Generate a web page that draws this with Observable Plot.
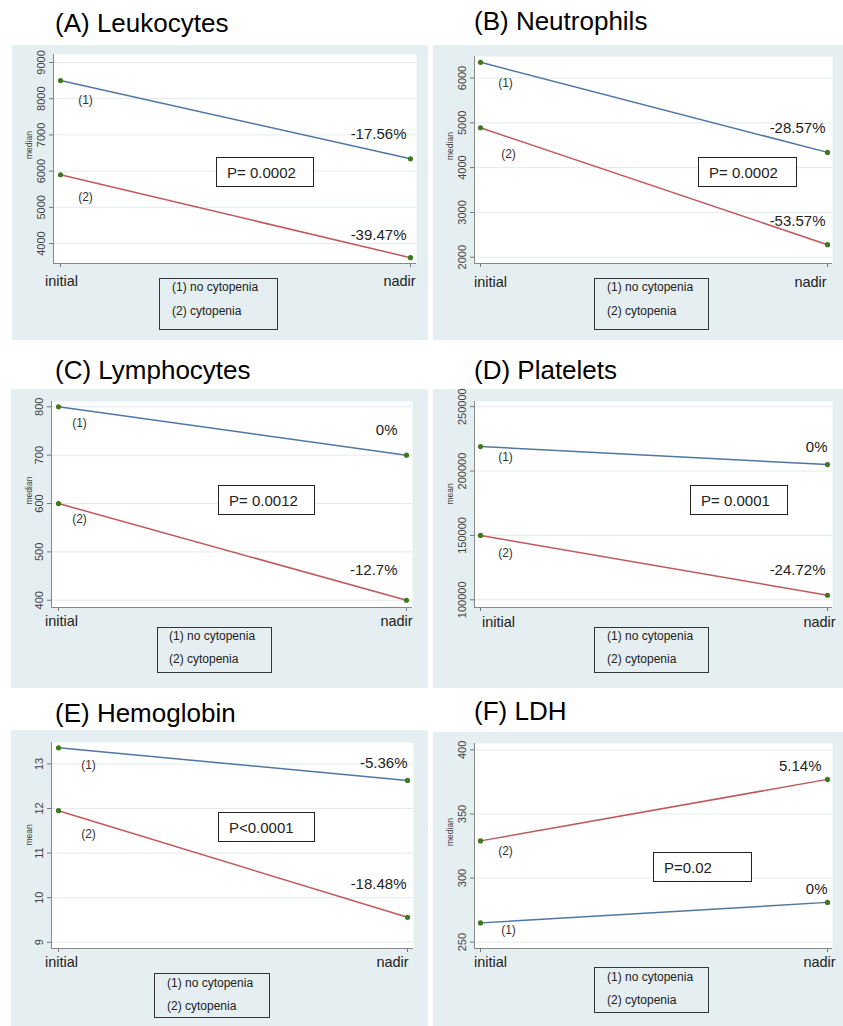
<!DOCTYPE html>
<html>
<head>
<meta charset="utf-8">
<script src="https://cdn.jsdelivr.net/npm/d3@7"></script>
<script src="https://cdn.jsdelivr.net/npm/@observablehq/plot@0.6"></script>
<style>
  body { margin: 0; background: #fff; font-family: "Liberation Sans", Arial, sans-serif; }
  #root { position: relative; width: 843px; height: 1026px; overflow: hidden; background: #fff; }
  .title { position: absolute; font-size: 26px; line-height: 26px; color: #000; white-space: nowrap; }
  .bg { position: absolute; background: #e5eef0; }
  .holder { position: absolute; }
  .pbox { position: absolute; box-sizing: border-box; border: 1px solid #222; background: #fff;
          font-size: 15px; color: #222; display: flex; align-items: center; padding-left: 10px; white-space: nowrap; }
  .legend { position: absolute; box-sizing: border-box; border: 1px solid #333; }
  .legrow { position: absolute; font-size: 12px; line-height: 14px; color: #222; white-space: nowrap; }
</style>
</head>
<body>
<div id="root"></div>
<script>
// ---------- data ----------
const timepoints = ["initial", "nadir"];
const groups = ["(1)", "(2)"];
const legendItems = ["(1) no cytopenia", "(2) cytopenia"];
const titles = ["(A) Leukocytes", "(B) Neutrophils", "(C) Lymphocytes", "(D) Platelets", "(E) Hemoglobin", "(F) LDH"];
const yTitles = ["median", "median", "median", "mean", "mean", "median"];
const noCytoInitial = [8500, 6350, 800, 219000, 13.36, 265];
const noCytoNadir   = [6340, 4340, 700, 205000, 12.63, 281];
const cytoInitial   = [5900, 4890, 600, 150000, 11.95, 329];
const cytoNadir     = [3610, 2280, 400, 103500, 9.56, 377];
const pctNoCyto = ["-17.56%", "-28.57%", "0%", "0%", "-5.36%", "0%"];
const pctCyto   = ["-39.47%", "-53.57%", "-12.7%", "-24.72%", "-18.48%", "5.14%"];
const pValues = ["P= 0.0002", "P= 0.0002", "P= 0.0012", "P= 0.0001", "P<0.0001", "P=0.02"];
const yTicks = [
  [4000, 5000, 6000, 7000, 8000, 9000],
  [2000, 3000, 4000, 5000, 6000],
  [400, 500, 600, 700, 800],
  [100000, 150000, 200000, 250000],
  [9, 10, 11, 12, 13],
  [250, 300, 350, 400]
];

// ---------- layout (pixels) ----------
const layout = [
  {bg:[12,45,428,340], axisX:53, plotR:416, plotT:54, axisY:263, ticks:[60,410], yDomain:[3450,9220],
   title:[55,10], l1:[25,20], l2:[25,22], p1:[-4,-25], p2:[-4,-23], xl:[1,-11,22], yt:-24,
   pbox:[216,157,314,187], legend:[159,278,278,330], legRows:[287,311], legLeft:172},
  {bg:[433,45,843,340], axisX:474, plotR:832, plotT:56, axisY:263, ticks:[480,827], yDomain:[1860,6480],
   title:[474,8], l1:[25,21], l2:[28,26], p1:[-2,-24], p2:[-2,-23], xl:[10,-17,23], yt:-24,
   pbox:[698,157,797,187], legend:[594,278,709,330], legRows:[287,311], legLeft:607},
  {bg:[11,389,428,688], axisX:51, plotR:412, plotT:401, axisY:607, ticks:[58,406], yDomain:[385,811],
   title:[55,357], l1:[21,16], l2:[21,16], p1:[-9,-25], p2:[-9,-30], xl:[3,-10,18], yt:-22,
   pbox:[218,485,315,515], legend:[157,627,272,673], legRows:[636,659], legLeft:169},
  {bg:[433,389,843,688], axisX:474, plotR:832, plotT:401, axisY:607, ticks:[480,827], yDomain:[94000,254000],
   title:[474,357], l1:[25,11], l2:[25,18], p1:[0,-17], p2:[-2,-25], xl:[18,-8,19], yt:-24,
   pbox:[690,485,788,515], legend:[594,627,709,673], legRows:[636,659], legLeft:607},
  {bg:[11,730,428,1026], axisX:51, plotR:413, plotT:742, axisY:948, ticks:[58,407], yDomain:[8.86,13.48],
   title:[55,700], l1:[30,17], l2:[30,23], p1:[0,-17], p2:[-1,-33], xl:[3,-15,18], yt:-22,
   pbox:[218,812,315,842], legend:[154,973,270,1018], legRows:[983,1006], legLeft:167},
  {bg:[433,732,843,1026], axisX:474, plotR:832, plotT:743, axisY:948, ticks:[480,827], yDomain:[245,405],
   title:[474,698], l1:[28,7], l2:[25,10], p1:[0,-13], p2:[-6,-13], xl:[10,-8,18], yt:-24,
   pbox:[653,852,752,882], legend:[594,967,709,1013], legRows:[977,1000], legLeft:607}
];

const BLUE = "#4f77a3", RED = "#c0585b", GREEN = "#3d7a1f";
const root = document.getElementById("root");

function el(cls, left, top, w, h) {
  const d = document.createElement("div");
  d.className = cls;
  d.style.left = left + "px"; d.style.top = top + "px";
  if (w != null) d.style.width = w + "px";
  if (h != null) d.style.height = h + "px";
  root.appendChild(d);
  return d;
}

layout.forEach((L, i) => {
  const [bl, bt, br, bb] = L.bg;
  const W = br - bl, H = bb - bt;
  const mL = L.axisX - bl, mR = br - L.plotR, mT = L.plotT - bt, mB = bb - L.axisY;

  const t = el("title", L.title[0], L.title[1]);
  t.textContent = titles[i];

  el("bg", bl, bt, W, H);

  const g1 = [{t: timepoints[0], g: groups[0], v: noCytoInitial[i]}, {t: timepoints[1], g: groups[0], v: noCytoNadir[i]}];
  const g2 = [{t: timepoints[0], g: groups[1], v: cytoInitial[i]}, {t: timepoints[1], g: groups[1], v: cytoNadir[i]}];

  const chart = Plot.plot({
    width: W, height: H,
    marginLeft: mL, marginRight: mR, marginTop: mT, marginBottom: mB,
    style: {background: "transparent", fontFamily: "Liberation Sans, Arial, sans-serif", overflow: "visible"},
    x: {type: "point", domain: timepoints, range: [L.ticks[0] - bl, L.ticks[1] - bl], padding: 0},
    y: {domain: L.yDomain},
    marks: [
      Plot.frame({fill: "white", stroke: "none"}),
      Plot.gridY(yTicks[i], {stroke: "#e3ebed", strokeOpacity: 1}),
      Plot.axisY(yTicks[i], {tickRotate: -90, tickSize: 4, tickPadding: 5, fontSize: 11,
                             tickFormat: d => String(d), stroke: "#777", fill: "#444", label: null}),
      Plot.axisX(timepoints, {tickSize: 4, tickFormat: () => "", stroke: "#777", label: null}),
      Plot.text([yTitles[i]], {frameAnchor: "left", text: d => d, rotate: -90, dx: L.yt, fontSize: 8.5, fill: "#444"}),
      Plot.text([timepoints[0]], {x: d => d, text: d => d, frameAnchor: "bottom", dx: L.xl[0], dy: L.xl[2], fontSize: 14.5, fill: "#222"}),
      Plot.text([timepoints[1]], {x: d => d, text: d => d, frameAnchor: "bottom", dx: L.xl[1], dy: L.xl[2], fontSize: 14.5, fill: "#222"}),
      Plot.line(g1, {x: "t", y: "v", stroke: BLUE, strokeWidth: 1.5}),
      Plot.line(g2, {x: "t", y: "v", stroke: RED, strokeWidth: 1.5}),
      Plot.dot([...g1, ...g2], {x: "t", y: "v", r: 2.6, fill: GREEN, stroke: "none"}),
      Plot.text([g1[0]], {x: "t", y: "v", text: "g", dx: L.l1[0], dy: L.l1[1], fontSize: 12, fill: "#333"}),
      Plot.text([g2[0]], {x: "t", y: "v", text: "g", dx: L.l2[0], dy: L.l2[1], fontSize: 12, fill: "#333"}),
      Plot.text([g1[1]], {x: "t", y: "v", text: () => pctNoCyto[i], textAnchor: "end", dx: L.p1[0], dy: L.p1[1], fontSize: 15, fill: "#222"}),
      Plot.text([g2[1]], {x: "t", y: "v", text: () => pctCyto[i], textAnchor: "end", dx: L.p2[0], dy: L.p2[1], fontSize: 15, fill: "#222"})
    ]
  });

  const s = d3.select(chart);
  s.append("line").attr("x1", mL + 0.5).attr("x2", mL + 0.5).attr("y1", mT).attr("y2", H - mB)
    .attr("stroke", "#888").attr("stroke-width", 1);
  s.append("line").attr("x1", mL).attr("x2", W - mR).attr("y1", H - mB + 0.5).attr("y2", H - mB + 0.5)
    .attr("stroke", "#888").attr("stroke-width", 1);

  const holder = el("holder", bl, bt, W, H);
  holder.appendChild(chart);

  const [px0, py0, px1, py1] = L.pbox;
  const pb = el("pbox", px0, py0, px1 - px0, py1 - py0);
  pb.textContent = pValues[i];

  const [lx0, ly0, lx1, ly1] = L.legend;
  el("legend", lx0, ly0, lx1 - lx0, ly1 - ly0);
  legendItems.forEach((txt, k) => {
    const r = el("legrow", L.legLeft, L.legRows[k] - 7);
    r.textContent = txt;
  });
});
</script>
</body>
</html>
